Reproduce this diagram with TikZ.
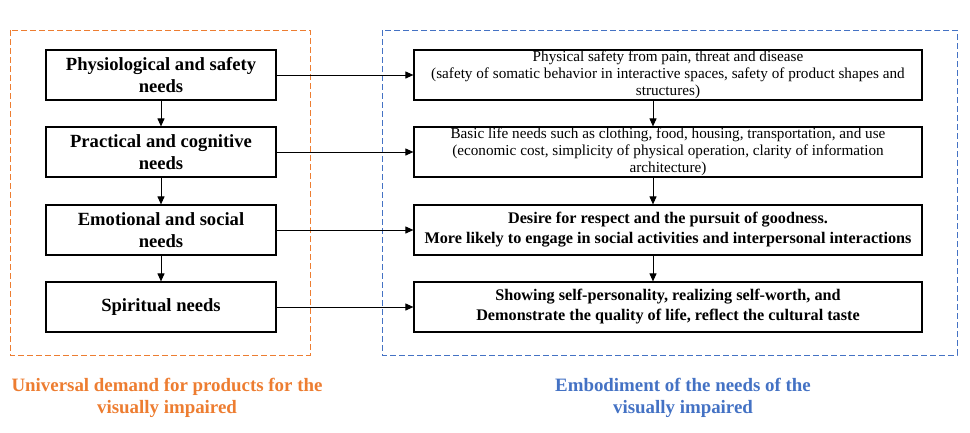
\documentclass[tikz,border=0pt]{standalone}
\usepackage{fontspec}
\setmainfont{Liberation Serif}
\usetikzlibrary{arrows.meta}
\definecolor{dorange}{HTML}{ED7D31}
\definecolor{dblue}{HTML}{4472C4}
\begin{document}
\begin{tikzpicture}[x=1pt,y=-1pt,
 lbox/.style={draw,line width=1.2pt,minimum width=230pt,minimum height=50pt,align=center,inner sep=0pt,font=\fontsize{18.6}{21.5}\selectfont\bfseries},
 rbox/.style={draw,line width=1.2pt,minimum width=508pt,minimum height=50pt,align=center,inner sep=0pt,font=\fontsize{15.2}{17}\selectfont},
 rboxb/.style={rbox,font=\fontsize{16.2}{20}\selectfont\bfseries},
 arr/.style={-{Triangle[length=8pt,width=7pt]},line width=1pt},
 frame/.style={dash pattern=on 6pt off 3pt,line width=1pt},
 title/.style={font=\fontsize{18.9}{22}\selectfont\bfseries,align=center}]
\useasboundingbox (0,0) rectangle (970,432);
\draw[frame,dorange] (10,30) rectangle (310,355);
\draw[frame,dblue] (382,30) rectangle (957,355);
\node[lbox] (l1) at (161,75) {Physiological and safety\\needs};
\node[lbox] (l2) at (161,152) {Practical and cognitive\\needs};
\node[lbox] (l3) at (161,230) {Emotional and social\\needs};
\node[lbox] (l4) at (161,307) {Spiritual needs};
\node[rbox] (r1) at (668,75) {Physical safety from pain, threat and disease\\(safety of somatic behavior in interactive spaces, safety of product shapes and\\structures)};
\node[rbox] (r2) at (668,152) {Basic life needs such as clothing, food, housing, transportation, and use\\(economic cost, simplicity of physical operation, clarity of information\\architecture)};
\node[rboxb] (r3) at (668,230) {Desire for respect and the pursuit of goodness.\\More likely to engage in social activities and interpersonal interactions};
\node[rboxb] (r4) at (668,307) {Showing self-personality, realizing self-worth, and\\Demonstrate the quality of life, reflect the cultural taste};
\foreach \a/\b in {l1/l2,l2/l3,l3/l4}{\draw[arr] (\a.south) -- (\b.north);}
\foreach \a/\b in {r1/r2,r2/r3,r3/r4}{\draw[arr] ([xshift=-15pt]\a.south) -- ([xshift=-15pt]\b.north);}
\foreach \i in {1,2,3,4}{\draw[arr] (l\i.east) -- (r\i.west);}
\node[title,text=dorange] (t1) at (167,398) {Universal demand for products for the\\visually impaired};
\node[title,text=dblue] (t2) at (683,398) {Embodiment of the needs of the\\visually impaired};
\end{tikzpicture}
\end{document}
